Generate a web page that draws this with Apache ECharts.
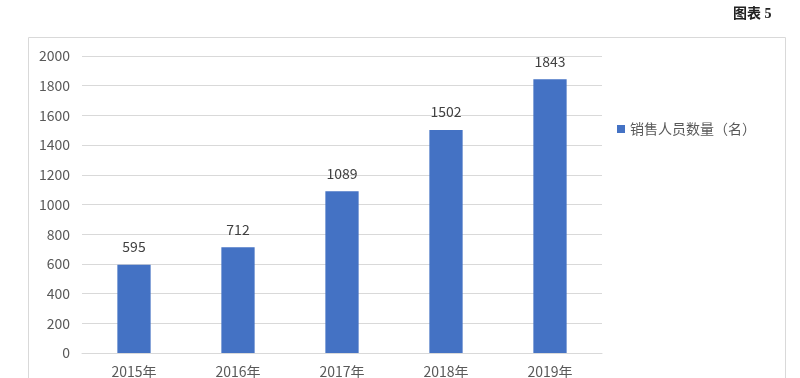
<!DOCTYPE html>
<html><head><meta charset="utf-8">
<script src="https://cdn.jsdelivr.net/npm/echarts@6/dist/echarts.min.js"></script>
<style>html,body{margin:0;padding:0;background:#fff;}#c{width:800px;height:378px;}</style>
</head><body><div id="c"></div>
<script>
const categories = ['2015年','2016年','2017年','2018年','2019年'];
const values = [595, 712, 1089, 1502, 1843];
const seriesName = '销售人员数量（名）';
const chart = echarts.init(document.getElementById('c'));
const font = '"Noto Sans CJK SC", "Noto Sans", sans-serif';
chart.setOption({
  animation: false,
  textStyle: {fontFamily: font},
  graphic: [
    {type: 'rect', shape: {x: 28.5, y: 37.5, width: 757, height: 400}, style: {fill: 'none', stroke: '#d9d9d9', lineWidth: 1}, silent: true},
    {type: 'text', left: 733, top: 7, style: {text: '图表 5', font: 'bold 14px "Liberation Serif", "Noto Sans CJK SC", serif', fill: '#222'}}
  ],
  legend: {
    orient: 'vertical', left: 612, top: 117,
    itemWidth: 8, itemHeight: 8, icon: 'rect',
    textStyle: {fontSize: 14, color: '#595959', fontFamily: font},
    data: [seriesName]
  },
  grid: {left: 82, right: 198, top: 56, bottom: 25, containLabel: false, outerBoundsMode: 'none'},
  xAxis: {
    type: 'category', data: categories,
    axisLine: {lineStyle: {color: '#d9d9d9'}},
    axisTick: {show: false},
    axisLabel: {fontSize: 14, color: '#595959', margin: 12}
  },
  yAxis: {
    type: 'value', min: 0, max: 2000, interval: 200,
    axisLine: {show: false}, axisTick: {show: false},
    splitLine: {lineStyle: {color: '#d9d9d9'}},
    axisLabel: {fontSize: 14, color: '#595959', margin: 12, formatter: v => String(v)}
  },
  series: [{
    name: seriesName, type: 'bar', data: values, barWidth: '32%',
    itemStyle: {color: '#4472c4'},
    label: {show: true, position: 'top', distance: 11, fontSize: 14, color: '#404040'}
  }]
});
</script></body></html>
